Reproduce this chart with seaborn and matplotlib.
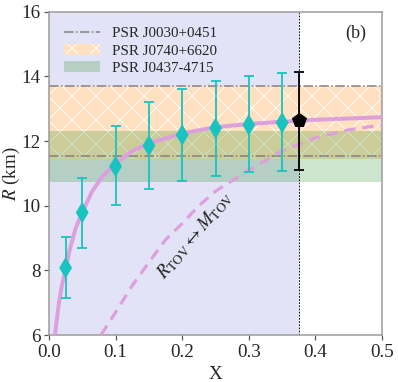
import numpy as np
import pandas as pd
import matplotlib
matplotlib.use("Agg")
import matplotlib.pyplot as plt
import seaborn as sns

# data
x_pts = [0.025, 0.05, 0.1, 0.15, 0.2, 0.25, 0.3, 0.35]
r_pts = [8.08, 9.79, 11.22, 11.86, 12.19, 12.40, 12.50, 12.57]
r_hi = [9.04, 10.86, 12.47, 13.22, 13.62, 13.86, 14.00, 14.10]
r_lo = [7.16, 8.68, 10.02, 10.52, 10.77, 10.93, 11.03, 11.09]

x_tov = 0.375
r_tov = 12.64
r_tov_hi = 14.15
r_tov_lo = 11.10

x_solid = [0.009, 0.015, 0.02, 0.025, 0.03, 0.04, 0.05, 0.065, 0.08, 0.1,
           0.125, 0.15, 0.2, 0.25, 0.3, 0.35, 0.4, 0.45, 0.5]
r_solid = [6.0, 7.0, 7.6, 8.0, 8.55, 9.3, 9.8, 10.45, 10.9, 11.3,
           11.7, 11.93, 12.24, 12.43, 12.53, 12.6, 12.66, 12.7, 12.74]

x_dash = [0.078, 0.1, 0.124, 0.15, 0.175, 0.2, 0.225, 0.25, 0.3, 0.35,
          0.4, 0.45, 0.5]
r_dash = [6.0, 6.7, 7.5, 8.25, 8.95, 9.45, 10.0, 10.45, 11.1, 11.7,
          12.1, 12.35, 12.5]

j0030 = [11.53, 13.70]
j0740 = [11.44, 13.70]
j0437 = [10.74, 12.32]

sns.set_style("ticks")
plt.rcParams["font.family"] = ["Liberation Serif", "DejaVu Serif"]
plt.rcParams["mathtext.fontset"] = "stix"
plt.rcParams["hatch.color"] = "white"
plt.rcParams["hatch.linewidth"] = 0.8

fig = plt.figure(figsize=(398 / 72, 382 / 72), dpi=72)
ax = fig.add_axes([0.123, 0.123, 0.837, 0.846])

# shaded region up to TOV
ax.axvspan(0, x_tov, color="#e3e3f7", lw=0, zorder=0)
ax.axvline(x_tov, color="black", ls=(0, (2, 1.5)), lw=0.9, zorder=2.5)

# PSR bands
ax.axhspan(j0740[0], j0740[1], facecolor="#ffe0c0", hatch="x",
           edgecolor="white", lw=0, zorder=1, label="PSR J0740+6620")
ax.axhspan(j0437[0], j0437[1], color="green", alpha=0.2, lw=0, zorder=1.5,
           label="PSR J0437-4715")
ax.axhline(j0030[0], color="gray", ls="-.", lw=1.5, zorder=2,
           label="PSR J0030+0451")
ax.axhline(j0030[1], color="gray", ls="-.", lw=1.5, zorder=2)

# curves
curve_color = "#dda0dd"
sns.lineplot(x=x_solid, y=r_solid, ax=ax, color=curve_color, lw=4, zorder=3)
sns.lineplot(x=x_dash, y=r_dash, ax=ax, color=curve_color, lw=3.2,
             ls=(0, (3.5, 2.2)), zorder=3)

# points with error bars
pts = pd.DataFrame({"x": x_pts, "r": r_pts, "hi": r_hi, "lo": r_lo})
yerr = [pts["r"] - pts["lo"], pts["hi"] - pts["r"]]
ax.errorbar(pts["x"], pts["r"], yerr=yerr, fmt="none", ecolor="#19c3c0",
            elinewidth=1.8, capsize=5, capthick=1.8, zorder=4)
sns.scatterplot(data=pts, x="x", y="r", ax=ax, marker="d", s=230,
                color="#19c3c0", edgecolor="none", zorder=5)

ax.errorbar([x_tov], [r_tov], yerr=[[r_tov - r_tov_lo], [r_tov_hi - r_tov]],
            fmt="p", color="black", ms=15, elinewidth=1.8, capsize=5,
            capthick=1.8, zorder=6)

ax.text(0.22, 9.1, r"$R_{\rm TOV} \leftrightarrow M_{\rm TOV}$", fontsize=19,
        rotation=50, ha="center", va="center", zorder=6)
ax.text(0.46, 15.35, "(b)", fontsize=18, ha="center", va="center")

ax.set_xlim(0, 0.5)
ax.set_ylim(6, 16)
ax.set_xticks(np.arange(0, 0.51, 0.1))
ax.set_yticks(range(6, 17, 2))
ax.set_xlabel("X", fontsize=19)
ax.set_ylabel(r"$R$ (km)", fontsize=19)
ax.yaxis.set_label_coords(-0.08, 0.5)
ax.xaxis.set_label_coords(0.5, -0.095)
ax.tick_params(labelsize=19, direction="out", length=5, width=1.2,
               color="#555555")
for s in ax.spines.values():
    s.set_color("#999999")
    s.set_linewidth(1.5)

h, l = ax.get_legend_handles_labels()
order = [l.index("PSR J0030+0451"), l.index("PSR J0740+6620"),
         l.index("PSR J0437-4715")]
ax.legend([h[i] for i in order], [l[i] for i in order], loc="upper left",
          frameon=False, fontsize=15, handlelength=2.4, borderaxespad=0.6,
          labelspacing=0.25)

fig.savefig("out.png", dpi=72)
